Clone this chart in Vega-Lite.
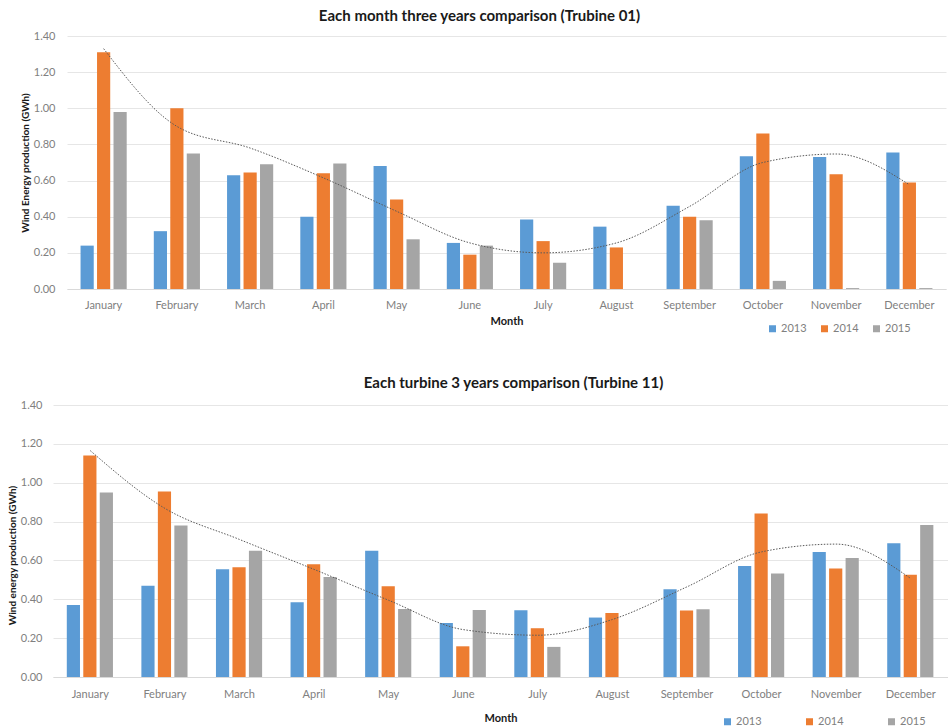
{
  "$schema": "https://vega.github.io/schema/vega-lite/v6.json",
  "padding": {"left": 0, "top": 9, "right": 0, "bottom": 0},
  "autosize": {"type": "pad"},
  "spacing": 42,
  "resolve": {"scale": {"color": "independent"}, "legend": {"color": "independent"}},
  "config": {
    "font": "Lato",
    "view": {"stroke": null},
    "axis": {"labelFont": "Lato", "titleFont": "Lato"},
    "legend": {"labelFont": "Lato"},
    "title": {"font": "Lato"}
  },
  "datasets": {
    "t01": [
      {"month": "January", "year": "2013", "value": 0.24},
      {"month": "January", "year": "2014", "value": 1.31},
      {"month": "January", "year": "2015", "value": 0.98},
      {"month": "February", "year": "2013", "value": 0.32},
      {"month": "February", "year": "2014", "value": 1.0},
      {"month": "February", "year": "2015", "value": 0.75},
      {"month": "March", "year": "2013", "value": 0.63},
      {"month": "March", "year": "2014", "value": 0.645},
      {"month": "March", "year": "2015", "value": 0.69},
      {"month": "April", "year": "2013", "value": 0.4},
      {"month": "April", "year": "2014", "value": 0.64},
      {"month": "April", "year": "2015", "value": 0.695},
      {"month": "May", "year": "2013", "value": 0.68},
      {"month": "May", "year": "2014", "value": 0.495},
      {"month": "May", "year": "2015", "value": 0.275},
      {"month": "June", "year": "2013", "value": 0.255},
      {"month": "June", "year": "2014", "value": 0.19},
      {"month": "June", "year": "2015", "value": 0.24},
      {"month": "July", "year": "2013", "value": 0.385},
      {"month": "July", "year": "2014", "value": 0.265},
      {"month": "July", "year": "2015", "value": 0.145},
      {"month": "August", "year": "2013", "value": 0.345},
      {"month": "August", "year": "2014", "value": 0.23},
      {"month": "September", "year": "2013", "value": 0.46},
      {"month": "September", "year": "2014", "value": 0.4},
      {"month": "September", "year": "2015", "value": 0.38},
      {"month": "October", "year": "2013", "value": 0.735},
      {"month": "October", "year": "2014", "value": 0.86},
      {"month": "October", "year": "2015", "value": 0.045},
      {"month": "November", "year": "2013", "value": 0.73},
      {"month": "November", "year": "2014", "value": 0.635},
      {"month": "November", "year": "2015", "value": 0.005},
      {"month": "December", "year": "2013", "value": 0.755},
      {"month": "December", "year": "2014", "value": 0.59},
      {"month": "December", "year": "2015", "value": 0.005}
    ],
    "t01trend": [
      {"month": "January", "value": 1.33},
      {"month": "February", "value": 0.9},
      {"month": "March", "value": 0.78},
      {"month": "April", "value": 0.615},
      {"month": "May", "value": 0.43},
      {"month": "June", "value": 0.255},
      {"month": "July", "value": 0.2},
      {"month": "August", "value": 0.255},
      {"month": "September", "value": 0.457},
      {"month": "October", "value": 0.7},
      {"month": "November", "value": 0.747},
      {"month": "December", "value": 0.577}
    ],
    "t11": [
      {"month": "January", "year": "2013", "value": 0.37},
      {"month": "January", "year": "2014", "value": 1.14},
      {"month": "January", "year": "2015", "value": 0.95},
      {"month": "February", "year": "2013", "value": 0.47},
      {"month": "February", "year": "2014", "value": 0.955},
      {"month": "February", "year": "2015", "value": 0.78},
      {"month": "March", "year": "2013", "value": 0.555},
      {"month": "March", "year": "2014", "value": 0.565},
      {"month": "March", "year": "2015", "value": 0.65},
      {"month": "April", "year": "2013", "value": 0.385},
      {"month": "April", "year": "2014", "value": 0.58},
      {"month": "April", "year": "2015", "value": 0.515},
      {"month": "May", "year": "2013", "value": 0.65},
      {"month": "May", "year": "2014", "value": 0.467},
      {"month": "May", "year": "2015", "value": 0.35},
      {"month": "June", "year": "2013", "value": 0.278},
      {"month": "June", "year": "2014", "value": 0.158},
      {"month": "June", "year": "2015", "value": 0.345},
      {"month": "July", "year": "2013", "value": 0.344},
      {"month": "July", "year": "2014", "value": 0.251},
      {"month": "July", "year": "2015", "value": 0.155},
      {"month": "August", "year": "2013", "value": 0.306},
      {"month": "August", "year": "2014", "value": 0.33},
      {"month": "September", "year": "2013", "value": 0.452},
      {"month": "September", "year": "2014", "value": 0.342},
      {"month": "September", "year": "2015", "value": 0.349},
      {"month": "October", "year": "2013", "value": 0.571},
      {"month": "October", "year": "2014", "value": 0.842},
      {"month": "October", "year": "2015", "value": 0.533},
      {"month": "November", "year": "2013", "value": 0.643},
      {"month": "November", "year": "2014", "value": 0.559},
      {"month": "November", "year": "2015", "value": 0.612},
      {"month": "December", "year": "2013", "value": 0.688},
      {"month": "December", "year": "2014", "value": 0.526},
      {"month": "December", "year": "2015", "value": 0.782}
    ],
    "t11trend": [
      {"month": "January", "value": 1.165},
      {"month": "February", "value": 0.868},
      {"month": "March", "value": 0.708},
      {"month": "April", "value": 0.554},
      {"month": "May", "value": 0.395},
      {"month": "June", "value": 0.244},
      {"month": "July", "value": 0.215},
      {"month": "August", "value": 0.296},
      {"month": "September", "value": 0.464},
      {"month": "October", "value": 0.644},
      {"month": "November", "value": 0.684},
      {"month": "December", "value": 0.507}
    ]
  },
  "vconcat": [
    {
      "title": {"text": "Each month three years comparison (Trubine 01)", "fontSize": 15, "fontWeight": "bold", "color": "#1a1a1a", "anchor": "middle", "dx": -20, "offset": 6},
      "width": 893,
      "height": 253,
      "layer": [
        {
          "data": {"name": "t01"},
          "mark": {"type": "bar"},
          "encoding": {
            "x": {
              "field": "month", "type": "nominal",
              "sort": ["January","February","March","April","May","June","July","August","September","October","November","December"],
              "scale": {"range": [14, 893], "paddingInner": 0.37, "paddingOuter": 0.185},
              "axis": {"labelAngle": 0, "ticks": false, "domainColor": "#D9D9D9", "labelColor": "#808080", "labelFontSize": 11, "labelPadding": 10, "title": "Month", "titleFontSize": 11, "titleFontWeight": "bold", "titleColor": "#1a1a1a", "titlePadding": 5}
            },
            "xOffset": {"field": "year", "type": "nominal", "scale": {"domain": ["2013","2014","2015"], "paddingInner": 0.2}},
            "y": {
              "field": "value", "type": "quantitative",
              "scale": {"domain": [0, 1.4], "nice": false},
              "axis": {"values": [0, 0.2, 0.4, 0.6, 0.8, 1.0, 1.2, 1.4], "tickCount": 10, "format": ".2f", "labelOverlap": false, "labelBound": false, "domain": false, "ticks": false, "gridColor": "#E6E6E6", "labelColor": "#808080", "labelFontSize": 11, "labelPadding": 12, "offset": -14, "title": "Wind Energy production (GWh)", "titleFontSize": 10, "titleFontWeight": "bold", "titleColor": "#1a1a1a", "titlePadding": 0, "titleX": -42, "titleBaseline": "middle"}
            },
            "color": {
              "field": "year", "type": "nominal",
              "scale": {"domain": ["2013","2014","2015"], "range": ["#5B9BD5","#ED7D31","#A5A5A5"]},
              "legend": {"title": null, "orient": "none", "direction": "horizontal", "columns": 3, "legendX": 714, "legendY": 287, "symbolType": "square", "symbolSize": 49, "symbolStrokeWidth": 0, "labelColor": "#808080", "labelFontSize": 11, "labelOffset": 3, "columnPadding": 12}
            }
          }
        },
        {
          "data": {"name": "t01trend"},
          "mark": {"type": "line", "interpolate": "monotone", "strokeDash": [1.5, 1.5], "color": "#595959", "strokeWidth": 1},
          "encoding": {
            "x": {"field": "month", "type": "nominal", "sort": ["January","February","March","April","May","June","July","August","September","October","November","December"]},
            "y": {"field": "value", "type": "quantitative"}
          }
        }
      ]
    },
    {
      "title": {"text": "Each turbine 3 years comparison (Turbine 11)", "fontSize": 15, "fontWeight": "bold", "color": "#1a1a1a", "anchor": "middle", "dx": 13, "offset": 8},
      "width": 895,
      "height": 272,
      "layer": [
        {
          "data": {"name": "t11"},
          "mark": {"type": "bar"},
          "encoding": {
            "x": {
              "field": "month", "type": "nominal",
              "sort": ["January","February","March","April","May","June","July","August","September","October","November","December"],
              "scale": {"paddingInner": 0.37, "paddingOuter": 0.185},
              "axis": {"labelAngle": 0, "ticks": false, "domainColor": "#D9D9D9", "labelColor": "#808080", "labelFontSize": 11, "labelPadding": 11, "title": "Month", "titleFontSize": 11, "titleFontWeight": "bold", "titleColor": "#1a1a1a", "titlePadding": 13}
            },
            "xOffset": {"field": "year", "type": "nominal", "scale": {"domain": ["2013","2014","2015"], "paddingInner": 0.2}},
            "y": {
              "field": "value", "type": "quantitative",
              "scale": {"domain": [0, 1.4], "nice": false},
              "axis": {"values": [0, 0.2, 0.4, 0.6, 0.8, 1.0, 1.2, 1.4], "tickCount": 10, "format": ".2f", "labelOverlap": false, "labelBound": false, "domain": false, "ticks": false, "gridColor": "#E6E6E6", "labelColor": "#808080", "labelFontSize": 11, "labelPadding": 11, "title": "Wind energy production (GWh)", "titleFontSize": 10, "titleFontWeight": "bold", "titleColor": "#1a1a1a", "titlePadding": 0, "minExtent": 53, "titleX": -41, "titleY": 150, "titleBaseline": "middle"}
            },
            "color": {
              "field": "year", "type": "nominal",
              "scale": {"domain": ["2013","2014","2015"], "range": ["#5B9BD5","#ED7D31","#A5A5A5"]},
              "legend": {"title": null, "orient": "none", "direction": "horizontal", "columns": 3, "legendX": 669, "legendY": 311, "symbolType": "square", "symbolSize": 49, "symbolStrokeWidth": 0, "labelColor": "#808080", "labelFontSize": 11, "labelOffset": 3, "columnPadding": 42}
            }
          }
        },
        {
          "data": {"name": "t11trend"},
          "mark": {"type": "line", "interpolate": "monotone", "strokeDash": [1.5, 1.5], "color": "#595959", "strokeWidth": 1},
          "encoding": {
            "x": {"field": "month", "type": "nominal", "sort": ["January","February","March","April","May","June","July","August","September","October","November","December"]},
            "y": {"field": "value", "type": "quantitative"}
          }
        }
      ]
    }
  ]
}
